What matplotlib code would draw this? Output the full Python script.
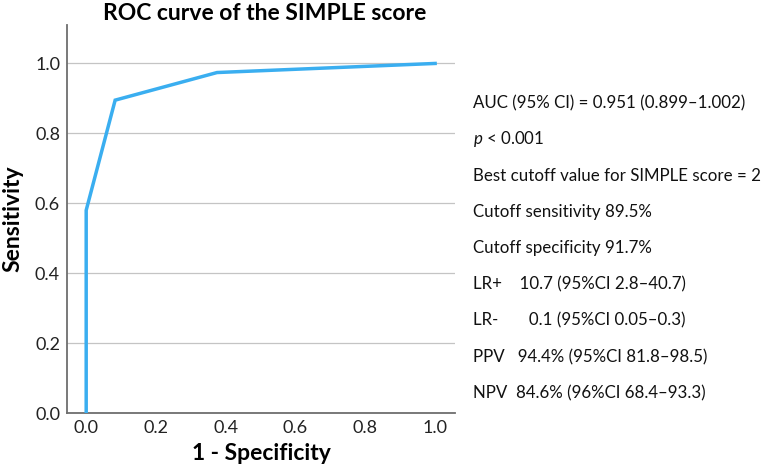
import matplotlib.pyplot as plt

plt.rcParams["font.family"] = ["Lato", "DejaVu Sans"]
plt.rcParams["mathtext.fontset"] = "custom"
plt.rcParams["mathtext.it"] = "Lato:italic"
plt.rcParams["mathtext.rm"] = "Lato"

# ROC points (1 - specificity, sensitivity)
fpr = [0.0, 0.0, 0.083, 0.375, 1.0]
tpr = [0.0, 0.58, 0.895, 0.974, 1.0]

ticks = [0.0, 0.2, 0.4, 0.6, 0.8, 1.0]

stats_lines = [
    "AUC (95% CI) = 0.951 (0.899\u20131.002)",
    "$\\it{p}$ < 0.001",
    "Best cutoff value for SIMPLE score = 2",
    "Cutoff sensitivity 89.5%",
    "Cutoff specificity 91.7%",
    "LR+    10.7 (95%CI 2.8\u201340.7)",
    "LR-       0.1 (95%CI 0.05\u20130.3)",
    "PPV   94.4% (95%CI 81.8\u201398.5)",
    "NPV  84.6% (96%CI 68.4\u201393.3)",
]

fig = plt.figure(figsize=(7.62, 4.67), dpi=100)
ax = fig.add_axes([67 / 762, 54 / 467, 388 / 762, 388 / 467])

ax.plot(fpr, tpr, color="#3aaef0", lw=2.5, solid_joinstyle="miter", zorder=3)

ax.set_xlim(-0.055, 1.057)
ax.set_ylim(0, 1.11)
ax.set_xticks(ticks)
ax.set_yticks(ticks)
ax.set_xticklabels([f"{t:.1f}" for t in ticks])
ax.set_yticklabels([f"{t:.1f}" for t in ticks])
ax.tick_params(length=0, labelsize=13, colors="#222222", pad=5)
ax.yaxis.grid(True, color="#c4c4c4", lw=0.9)
ax.set_axisbelow(True)
for side in ("top", "right"):
    ax.spines[side].set_visible(False)
for side in ("left", "bottom"):
    ax.spines[side].set_color("#6e6e6e")
    ax.spines[side].set_linewidth(1.3)

ax.set_xlabel("1 - Specificity", fontsize=16.5, fontweight="bold", labelpad=5)
ax.set_ylabel("Sensitivity", fontsize=16.5, fontweight="bold", labelpad=8)
fig.text(265 / 762, 1 - 14 / 467, "ROC curve of the SIMPLE score",
         fontsize=16.5, fontweight="bold", ha="center", va="center")

y0 = 103
step = 36.3
for i, line in enumerate(stats_lines):
    fig.text(473 / 762, 1 - (y0 + i * step) / 467, line,
             fontsize=12.2, ha="left", va="center", color="#111111")

fig.savefig("out.png", dpi=100)
